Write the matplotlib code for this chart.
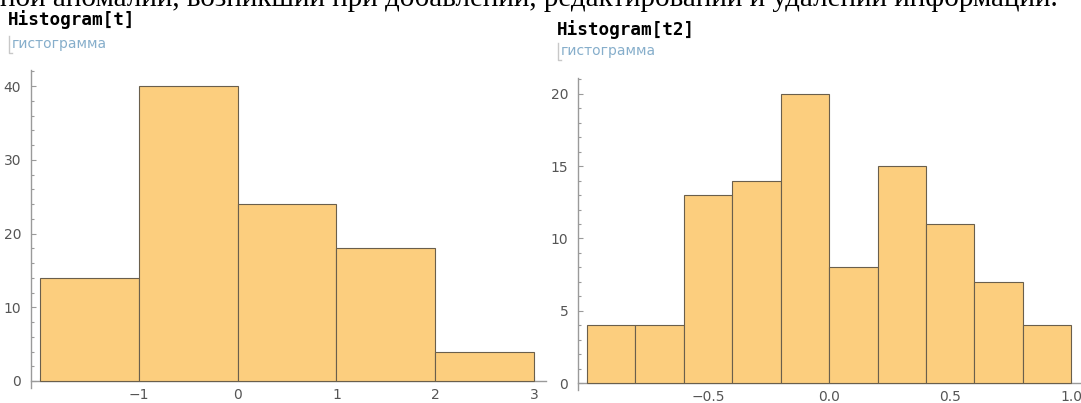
import numpy as np
import matplotlib
matplotlib.use("Agg")
import matplotlib.pyplot as plt
from matplotlib.ticker import MultipleLocator
from matplotlib.lines import Line2D

# ---- data ----
t_edges = [-2, -1, 0, 1, 2, 3]
t_counts = [14, 40, 24, 18, 4]
t2_edges = [-1.0, -0.8, -0.6, -0.4, -0.2, 0.0, 0.2, 0.4, 0.6, 0.8, 1.0]
t2_counts = [4, 4, 13, 14, 20, 8, 15, 11, 7, 4]
header_text = "ной аномалии, возникший при добавлении, редактировании и удалении информации."
titles = ["Histogram[t]", "Histogram[t2]"]
subtitle = "гистограмма"

W, H = 1081, 403
fig = plt.figure(figsize=(W / 100, H / 100), dpi=100)

BAR = "#FCCE7E"
EDGE = "#6a5f4c"
AXC = "#9a9a9a"
LBL = "#555555"


def px_axes(x0, x1, y0, y1):
    # pixel coords from top-left
    return fig.add_axes([x0 / W, 1 - y1 / H, (x1 - x0) / W, (y1 - y0) / H])


def style(ax, xmaj, xmin, ymaj, ymin):
    for s in ["top", "right"]:
        ax.spines[s].set_visible(False)
    ax.spines["bottom"].set_position(("data", 0))
    for s in ["left", "bottom"]:
        ax.spines[s].set_color(AXC)
        ax.spines[s].set_linewidth(1.0)
    ax.xaxis.set_major_locator(MultipleLocator(xmaj))
    ax.xaxis.set_minor_locator(MultipleLocator(xmin))
    ax.yaxis.set_major_locator(MultipleLocator(ymaj))
    ax.yaxis.set_minor_locator(MultipleLocator(ymin))
    ax.tick_params(which="both", direction="in", color=AXC, labelcolor=LBL,
                   labelsize=10, width=0.8)
    ax.tick_params(which="major", length=3.5)
    ax.tick_params(which="minor", length=2.2)
    ax.tick_params(axis="y", pad=7)
    ax.tick_params(axis="x", pad=5)
    ax.set_facecolor("none")


# left histogram
ax1 = px_axes(31, 546, 70, 388)
w1 = np.diff(t_edges)
ax1.bar(t_edges[:-1], t_counts, width=w1, align="edge", color=BAR,
        edgecolor=EDGE, linewidth=0.8, zorder=3)
ax1.set_xlim(-2.09, 3.12)
ax1.set_ylim(-0.95, 42.2)
style(ax1, 1, 0.2, 10, 2)
ax1.set_xticks([-1, 0, 1, 2, 3])

# right histogram
ax2 = px_axes(578, 1081, 78, 390)
w2 = np.diff(t2_edges)
ax2.bar(t2_edges[:-1], t2_counts, width=w2, align="edge", color=BAR,
        edgecolor=EDGE, linewidth=0.8, zorder=3)
ax2.set_xlim(-1.037, 1.04)
ax2.set_ylim(-0.48, 21.1)
style(ax2, 0.5, 0.1, 5, 1)
ax2.set_xticks([-0.5, 0.0, 0.5, 1.0])
ax2.set_xticklabels(["\u22120.5", "0.0", "0.5", "1.0"])

# header (cut-off line of text, as in the reference screenshot)
fig.text(0 / W, 1 - 6 / H, header_text, family="Liberation Serif",
         fontsize=21, color="black", va="baseline", ha="left")

# titles
for x, y, s in [(8, 19.5, titles[0]), (557, 30, titles[1])]:
    fig.text(x / W, 1 - y / H, s, family="DejaVu Sans Mono", weight="bold",
             fontsize=12.7, color="black", va="center", ha="left")

# subtitles with bracket
for x, y in [(12, 44), (561, 51)]:
    fig.text(x / W, 1 - y / H, subtitle, family="DejaVu Sans", fontsize=10,
             color="#86AECB", va="center", ha="left")
    bx = (x - 3) / W
    fig.add_artist(Line2D([bx, bx, bx + 3 / W], [1 - (y - 8) / H, 1 - (y + 9) / H, 1 - (y + 9) / H],
                          transform=fig.transFigure, color="#c8c8c8", lw=1.0))

fig.savefig("out.png", dpi=100)
